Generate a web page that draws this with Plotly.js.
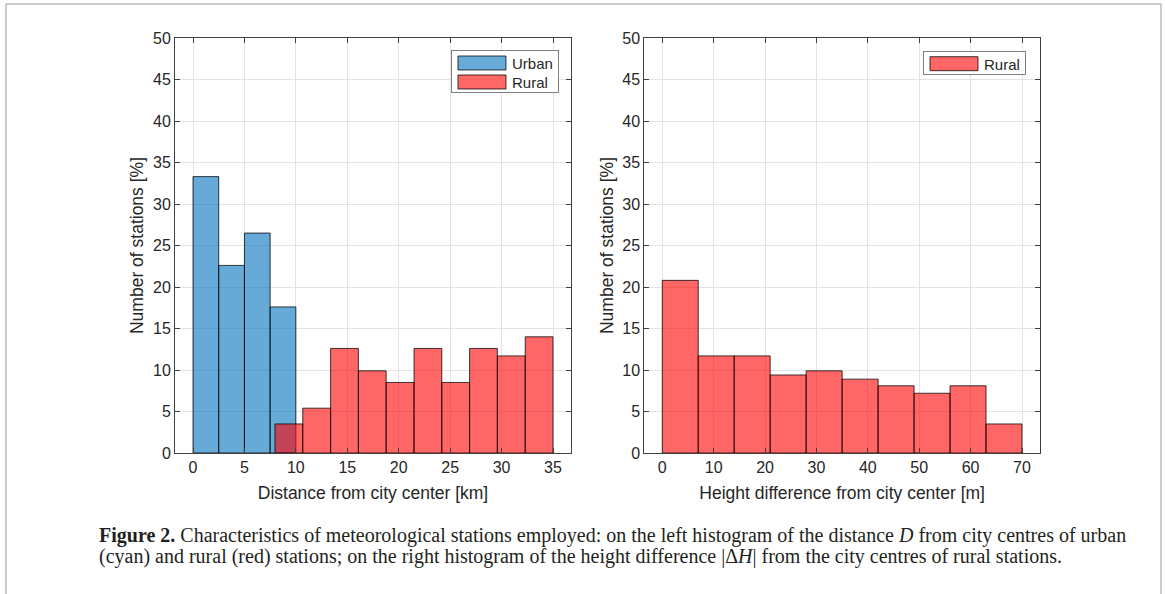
<!DOCTYPE html>
<html>
<head>
<meta charset="utf-8">
<script src="https://cdn.plot.ly/plotly-3.0.1.min.js"></script>
<style>
  html, body { margin: 0; padding: 0; background: #ffffff; }
  #chart { width: 1165px; height: 594px; }
</style>
</head>
<body>
<div id="chart"></div>
<script>
// ---------- data ----------
const urbanDistEdges = [0, 2.5, 5, 7.5, 10];
const urbanDistPct   = [33.3, 22.6, 26.5, 17.6];

const ruralDistEdges = [7.97, 10.67, 13.38, 16.08, 18.78, 21.49, 24.19, 26.89, 29.59, 32.30, 35.0];
const ruralDistPct   = [3.5, 5.4, 12.6, 9.9, 8.5, 12.6, 8.5, 12.6, 11.7, 14.0];

const ruralHeightEdges = [0, 7, 14, 21, 28, 35, 42, 49, 56, 63, 70];
const ruralHeightPct   = [20.8, 11.7, 11.7, 9.4, 9.9, 8.9, 8.1, 7.2, 8.1, 3.5];

const yTicks      = [0, 5, 10, 15, 20, 25, 30, 35, 40, 45, 50];
const xTicksLeft  = [0, 5, 10, 15, 20, 25, 30, 35];
const xTicksRight = [0, 10, 20, 30, 40, 50, 60, 70];

const labels = {
  urban: 'Urban',
  rural: 'Rural',
  yTitle: 'Number of stations [%]',
  xTitleLeft: 'Distance from city center [km]',
  xTitleRight: 'Height difference from city center [m]',
  caption1: '<b>Figure 2.</b> Characteristics of meteorological stations employed: on the left histogram of the distance <i>D</i> from city centres of urban',
  caption2: '(cyan) and rural (red) stations; on the right histogram of the height difference |Δ<i>H</i>| from the city centres of rural stations.'
};

// ---------- helpers ----------
function centers(edges) { return edges.slice(0, -1).map((e, i) => (e + edges[i + 1]) / 2); }
function widths(edges)  { return edges.slice(0, -1).map((e, i) => edges[i + 1] - e); }

const blueFill = 'rgba(0,114,189,0.6)';
const redFill  = 'rgba(255,0,0,0.6)';
const edgeCol  = 'rgba(0,0,0,0.75)';

const traces = [
  { type: 'bar', name: labels.urban, x: centers(urbanDistEdges), y: urbanDistPct, width: widths(urbanDistEdges),
    marker: { color: blueFill, line: { color: edgeCol, width: 1 } }, xaxis: 'x', yaxis: 'y', legend: 'legend', hoverinfo: 'skip' },
  { type: 'bar', name: labels.rural, x: centers(ruralDistEdges), y: ruralDistPct, width: widths(ruralDistEdges),
    marker: { color: redFill, line: { color: edgeCol, width: 1 } }, xaxis: 'x', yaxis: 'y', legend: 'legend', hoverinfo: 'skip' },
  { type: 'bar', name: labels.rural, x: centers(ruralHeightEdges), y: ruralHeightPct, width: widths(ruralHeightEdges),
    marker: { color: redFill, line: { color: edgeCol, width: 1 } }, xaxis: 'x2', yaxis: 'y2', legend: 'legend2', hoverinfo: 'skip' }
];

const axisCol = '#404040';
const txtCol = '#262626';
const gridCol = '#e3e3e3';
const tickFont = { family: 'Liberation Sans, Arial, sans-serif', size: 16, color: txtCol };
const titleFont = { family: 'Liberation Sans, Arial, sans-serif', size: 17.5, color: txtCol };

function xAxis(domain, range, ticks, title) {
  return {
    domain: domain, range: range, tickvals: ticks, ticktext: ticks.map(String),
    ticks: 'inside', ticklen: 5, tickcolor: axisCol, mirror: 'ticks',
    showline: true, linecolor: axisCol, linewidth: 1,
    showgrid: true, gridcolor: gridCol, gridwidth: 1, zeroline: false,
    tickfont: tickFont, title: { text: title, font: titleFont, standoff: 11 },
    fixedrange: true
  };
}
function yAxis(anchor) {
  return {
    anchor: anchor, domain: [0, 1], range: [0, 50], tickvals: yTicks, ticktext: yTicks.map(String),
    ticks: 'inside', ticklen: 5, tickcolor: axisCol, mirror: 'ticks',
    showline: true, linecolor: axisCol, linewidth: 1,
    showgrid: true, gridcolor: gridCol, gridwidth: 1, zeroline: false,
    tickfont: tickFont, title: { text: labels.yTitle, font: titleFont, standoff: 4 },
    fixedrange: true
  };
}

const legendCommon = {
  bgcolor: '#ffffff', bordercolor: '#808080', borderwidth: 1,
  font: { family: 'Liberation Sans, Arial, sans-serif', size: 15, color: txtCol },
  xanchor: 'right', yanchor: 'top', itemwidth: 50, tracegroupgap: 0,
  traceorder: 'normal', itemclick: false, itemdoubleclick: false
};

const layout = {
  width: 1165, height: 594,
  margin: { l: 175, r: 125, t: 38, b: 141 },
  paper_bgcolor: '#ffffff', plot_bgcolor: '#ffffff',
  barmode: 'overlay',
  showlegend: true,
  xaxis: xAxis([0, 0.4578], [-1.75, 36.75], xTicksLeft, labels.xTitleLeft),
  yaxis: yAxis('x'),
  xaxis2: Object.assign(xAxis([0.5425, 1], [-3.5, 73.5], xTicksRight, labels.xTitleRight), { anchor: 'y2' }),
  yaxis2: yAxis('x2'),
  legend: Object.assign({}, legendCommon, { x: 0.4439, y: 0.9711 }),
  legend2: Object.assign({}, legendCommon, { x: 0.9838, y: 0.9694 }),
  annotations: [
    { xref: 'paper', yref: 'paper', x: -0.0896, y: -0.1976, xanchor: 'left', yanchor: 'middle', showarrow: false,
      text: labels.caption1, font: { family: 'Liberation Serif, Times New Roman, serif', size: 20, color: '#231f20' } },
    { xref: 'paper', yref: 'paper', x: -0.0896, y: -0.2506, xanchor: 'left', yanchor: 'middle', showarrow: false,
      text: labels.caption2, font: { family: 'Liberation Serif, Times New Roman, serif', size: 20, color: '#231f20' } }
  ],
  shapes: [
    { type: 'rect', xref: 'paper', yref: 'paper', x0: -0.1954, x1: 1.1399, y0: -0.6, y1: 1.0819,
      line: { color: '#bdbdbd', width: 1.5 }, fillcolor: 'rgba(0,0,0,0)', layer: 'below' }
  ]
};

Plotly.newPlot('chart', traces, layout, { staticPlot: true, displayModeBar: false }).then(function (gd) {
  // widen the legend swatches like MATLAB's rectangular patches
  gd.querySelectorAll('.legendpoints path').forEach(function (p) {
    p.setAttribute('d', 'M-24,7H24V-7H-24Z');
  });
  // tighten the legend boxes to MATLAB's compact spacing
  ['legend', 'legend2'].forEach(function (cls) {
    var g = gd.querySelector('.infolayer > g.' + cls);
    if (!g) return;
    var items = g.querySelectorAll('g.traces');
    var first = 13, step = 19;
    items.forEach(function (t, i) {
      var tr = t.getAttribute('transform') || '';
      var m = tr.match(/translate\(\s*([-\d.]+)[ ,]+([-\d.]+)\s*\)/);
      var x = m ? parseFloat(m[1]) : 1;
      t.setAttribute('transform', 'translate(' + x + ',' + (first + i * step) + ')');
    });
    var bg = g.querySelector('rect.bg');
    if (bg) bg.setAttribute('height', String(first + (items.length - 1) * step + 10));
  });
});
</script>
</body>
</html>
